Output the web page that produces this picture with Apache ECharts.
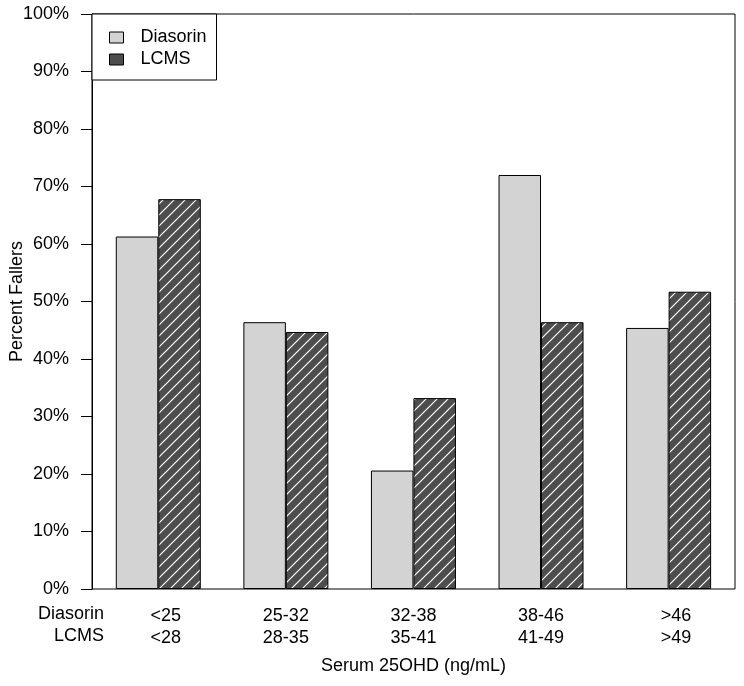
<!DOCTYPE html>
<html>
<head>
<meta charset="utf-8">
<script src="https://cdn.jsdelivr.net/npm/echarts@6/dist/echarts.min.js"></script>
<style>
html,body{margin:0;padding:0;background:#fff;}
#chart{width:744px;height:686px;}
</style>
</head>
<body>
<div id="chart"></div>
<script>
var diasorinLabels = ['<25', '25-32', '32-38', '38-46', '>46'];
var lcmsLabels = ['<28', '28-35', '35-41', '41-49', '>49'];
var diasorinValues = [61.3, 46.4, 20.6, 72.0, 45.4];
var lcmsValues = [67.8, 44.7, 33.2, 46.4, 51.7];
var yTicks = [0, 10, 20, 30, 40, 50, 60, 70, 80, 90, 100];

var FONT = '"Liberation Sans", Arial, Helvetica, sans-serif';

function makeHatch() {
  var s = 11;
  var c = document.createElement('canvas');
  c.width = s; c.height = s;
  var g = c.getContext('2d');
  g.fillStyle = '#4d4d4d';
  g.fillRect(0, 0, s, s);
  g.strokeStyle = '#ffffff';
  g.lineWidth = 1.2;
  g.beginPath();
  g.moveTo(-1, s + 1); g.lineTo(s + 1, -1);
  g.moveTo(-2, 2); g.lineTo(2, -2);
  g.moveTo(s - 2, s + 2); g.lineTo(s + 2, s - 2);
  g.stroke();
  return c;
}

var chart = echarts.init(document.getElementById('chart'), null, {renderer: 'canvas'});
chart.setOption({
  animation: false,
  backgroundColor: '#ffffff',
  textStyle: {fontFamily: FONT, color: '#000'},
  grid: [
    {left: 92, right: 9, top: 14, bottom: 97, show: true, borderColor: '#000', borderWidth: 1,
     backgroundColor: 'transparent', containLabel: false, outerBoundsMode: 'none'},
    {left: 94.5, right: 11.6, top: 14, bottom: 97, containLabel: false, outerBoundsMode: 'none'}
  ],
  legend: {
    orient: 'vertical',
    left: 92, top: 14,
    padding: [14.5, 10, 11.5, 17],
    itemWidth: 14, itemHeight: 11, itemGap: 4,
    icon: 'rect',
    borderColor: '#000', borderWidth: 1, backgroundColor: '#fff',
    textStyle: {fontSize: 18, lineHeight: 18, color: '#000', fontFamily: FONT, padding: [0, 0, 0, 12]},
    itemStyle: {borderColor: '#000', borderWidth: 1},
    data: [
      {name: 'Diasorin', itemStyle: {color: '#d3d3d3'}},
      {name: 'LCMS', itemStyle: {color: '#4d4d4d'}}
    ]
  },
  xAxis: [
    {gridIndex: 0, type: 'category', data: [''], show: false},
    {
      gridIndex: 1, type: 'category', data: diasorinLabels,
      axisLine: {show: false}, axisTick: {show: false},
      axisLabel: {
        margin: 16, interval: 0,
        formatter: function (v, i) {
          var st = (v.charAt(0) === '<' || v.charAt(0) === '>') ? 'o' : 'n';
          return '{' + st + '|' + v + '}\n{' + st + '|' + lcmsLabels[i] + '}';
        },
        rich: {
          n: {fontSize: 18, lineHeight: 22, color: '#000', fontFamily: FONT},
          o: {fontSize: 18, lineHeight: 22, color: '#000', fontFamily: FONT, padding: [0, 0, 0, 15]}
        }
      },
      name: 'Serum 25OHD (ng/mL)', nameLocation: 'middle', nameGap: 68, nameMoveOverlap: false,
      nameTextStyle: {fontSize: 18, lineHeight: 18, color: '#000', fontFamily: FONT}
    }
  ],
  yAxis: [
    {
      gridIndex: 0, type: 'value', min: yTicks[0], max: yTicks[yTicks.length - 1], interval: 10,
      axisLine: {show: true, lineStyle: {color: '#000', width: 1}},
      axisTick: {show: true, length: 11, lineStyle: {color: '#000', width: 1}},
      axisLabel: {formatter: '{value}%', fontSize: 18, color: '#000', margin: 23, fontFamily: FONT},
      splitLine: {show: false},
      name: 'Percent Fallers', nameLocation: 'middle', nameGap: 66, nameMoveOverlap: false,
      nameTextStyle: {fontSize: 18, color: '#000', fontFamily: FONT}
    },
    {gridIndex: 1, type: 'value', min: 0, max: 100, show: false, splitLine: {show: false}}
  ],
  graphic: [
    {
      type: 'text', right: 640, top: 605,
      style: {text: 'Diasorin', font: '18px ' + FONT, fill: '#000'}
    },
    {
      type: 'text', right: 640, top: 627,
      style: {text: 'LCMS', font: '18px ' + FONT, fill: '#000'}
    }
  ],
  series: [
    {
      name: 'Diasorin', type: 'bar', xAxisIndex: 1, yAxisIndex: 1,
      data: diasorinValues, barWidth: 42.5, barGap: '0%',
      itemStyle: {color: '#d3d3d3', borderColor: '#000', borderWidth: 1}
    },
    {
      name: 'LCMS', type: 'bar', xAxisIndex: 1, yAxisIndex: 1,
      data: lcmsValues, barWidth: 42.5, barGap: '0%',
      itemStyle: {color: {image: makeHatch(), repeat: 'repeat'}, borderColor: '#000', borderWidth: 1}
    }
  ]
});
</script>
</body>
</html>
